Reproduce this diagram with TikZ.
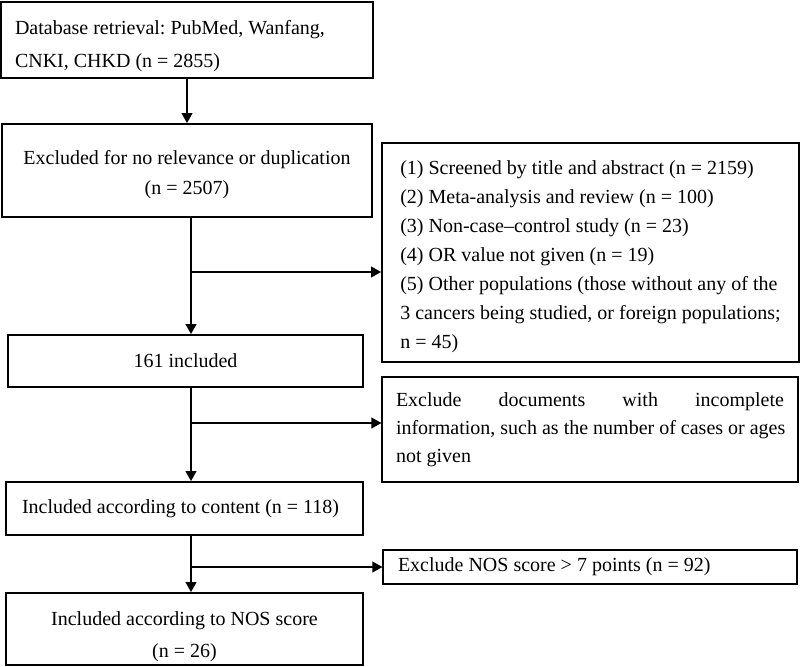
\documentclass[tikz,border=0pt]{standalone}
\usepackage{fontspec}
\setmainfont{Liberation Serif}
\usetikzlibrary{arrows.meta}
\newcommand{\topgap}[1]{\rule{0pt}{#1}}
\begin{document}
\frenchspacing
\begin{tikzpicture}[x=0.75pt,y=-0.75pt,
  box/.style={draw,line width=1.3pt,inner sep=0pt},
  thinbox/.style={draw,line width=0.8pt,inner sep=0pt},
  conn/.style={line width=1.3pt,-{Triangle[length=7.5pt,width=8pt]}},
  trunk/.style={line width=1.3pt}]
\useasboundingbox (0,0) rectangle (800,667);

\node[box,minimum width=279pt,minimum height=57pt,text width=258pt,align=flush left,
  font=\fontsize{15}{25}\selectfont] (b1) at (187,40)
  {\topgap{19.5pt}Database retrieval: PubMed, Wanfang,\\CNKI, CHKD (n = 2855)};
\node[box,minimum width=277.5pt,minimum height=69.75pt,align=center,
  font=\fontsize{15}{23}\selectfont] (b2) at (187,170.5)
  {\topgap{16.5pt}Excluded for no relevance or duplication\\(n = 2507)};
\node[box,minimum width=266.25pt,minimum height=39pt,align=center,
  font=\fontsize{15}{23}\selectfont] (b3) at (185.5,361) {161 included};
\node[box,minimum width=267.75pt,minimum height=39.75pt,text width=243.75pt,align=flush left,
  font=\fontsize{15}{23}\selectfont] (b4) at (184.5,508.5)
  {Included according to content (n = 118)};
\node[box,minimum width=267.75pt,minimum height=54pt,align=center,
  font=\fontsize{15}{24}\selectfont] (b5) at (184.5,629)
  {\topgap{22pt}Included according to NOS score\\(n = 26)};

\node[box,minimum width=312.75pt,minimum height=164.25pt,align=left,
  font=\fontsize{15}{21.75}\selectfont] (r1) at (590.5,252.5)
  {\topgap{16pt}(1) Screened by title and abstract (n = 2159)\\
   (2) Meta-analysis and review (n = 100)\\
   (3) Non-case--control study (n = 23)\\
   (4) OR value not given (n = 19)\\
   (5) Other populations (those without any of the\\
   3 cancers being studied, or foreign populations;\\
   n = 45)};
\node[thinbox,minimum width=312pt,minimum height=78.75pt,text width=291pt,align=flush left,
  font=\fontsize{15}{21}\selectfont] (r2) at (590,429.5)
  {Exclude\hfill documents\hfill with\hfill incomplete\\
   \mbox{information, such as the number of cases or ages}\\
   not given};
\node[thinbox,minimum width=310.5pt,minimum height=25.5pt,text width=288pt,align=flush left,
  font=\fontsize{15}{21}\selectfont] (r3) at (590,567)
  {Exclude NOS score > 7 points (n = 92)};

\coordinate (j1) at (191,272);
\coordinate (j2) at (191,423);
\coordinate (j3) at (191,567);

\draw[conn] (b1) -- (b2);

\draw[trunk] (b2.south -| j1) -- (j1);
\draw[conn] (j1) -- (j1 -| r1.west);
\draw[conn] (j1) -- (j1 |- b3.north);

\draw[trunk] (b3.south -| j2) -- (j2);
\draw[conn] (j2) -- (j2 -| r2.west);
\draw[conn] (j2) -- (j2 |- b4.north);

\draw[trunk] (b4.south -| j3) -- (j3);
\draw[conn] (j3) -- (j3 -| r3.west);
\draw[conn] (j3) -- (j3 |- b5.north);
\end{tikzpicture}
\end{document}
